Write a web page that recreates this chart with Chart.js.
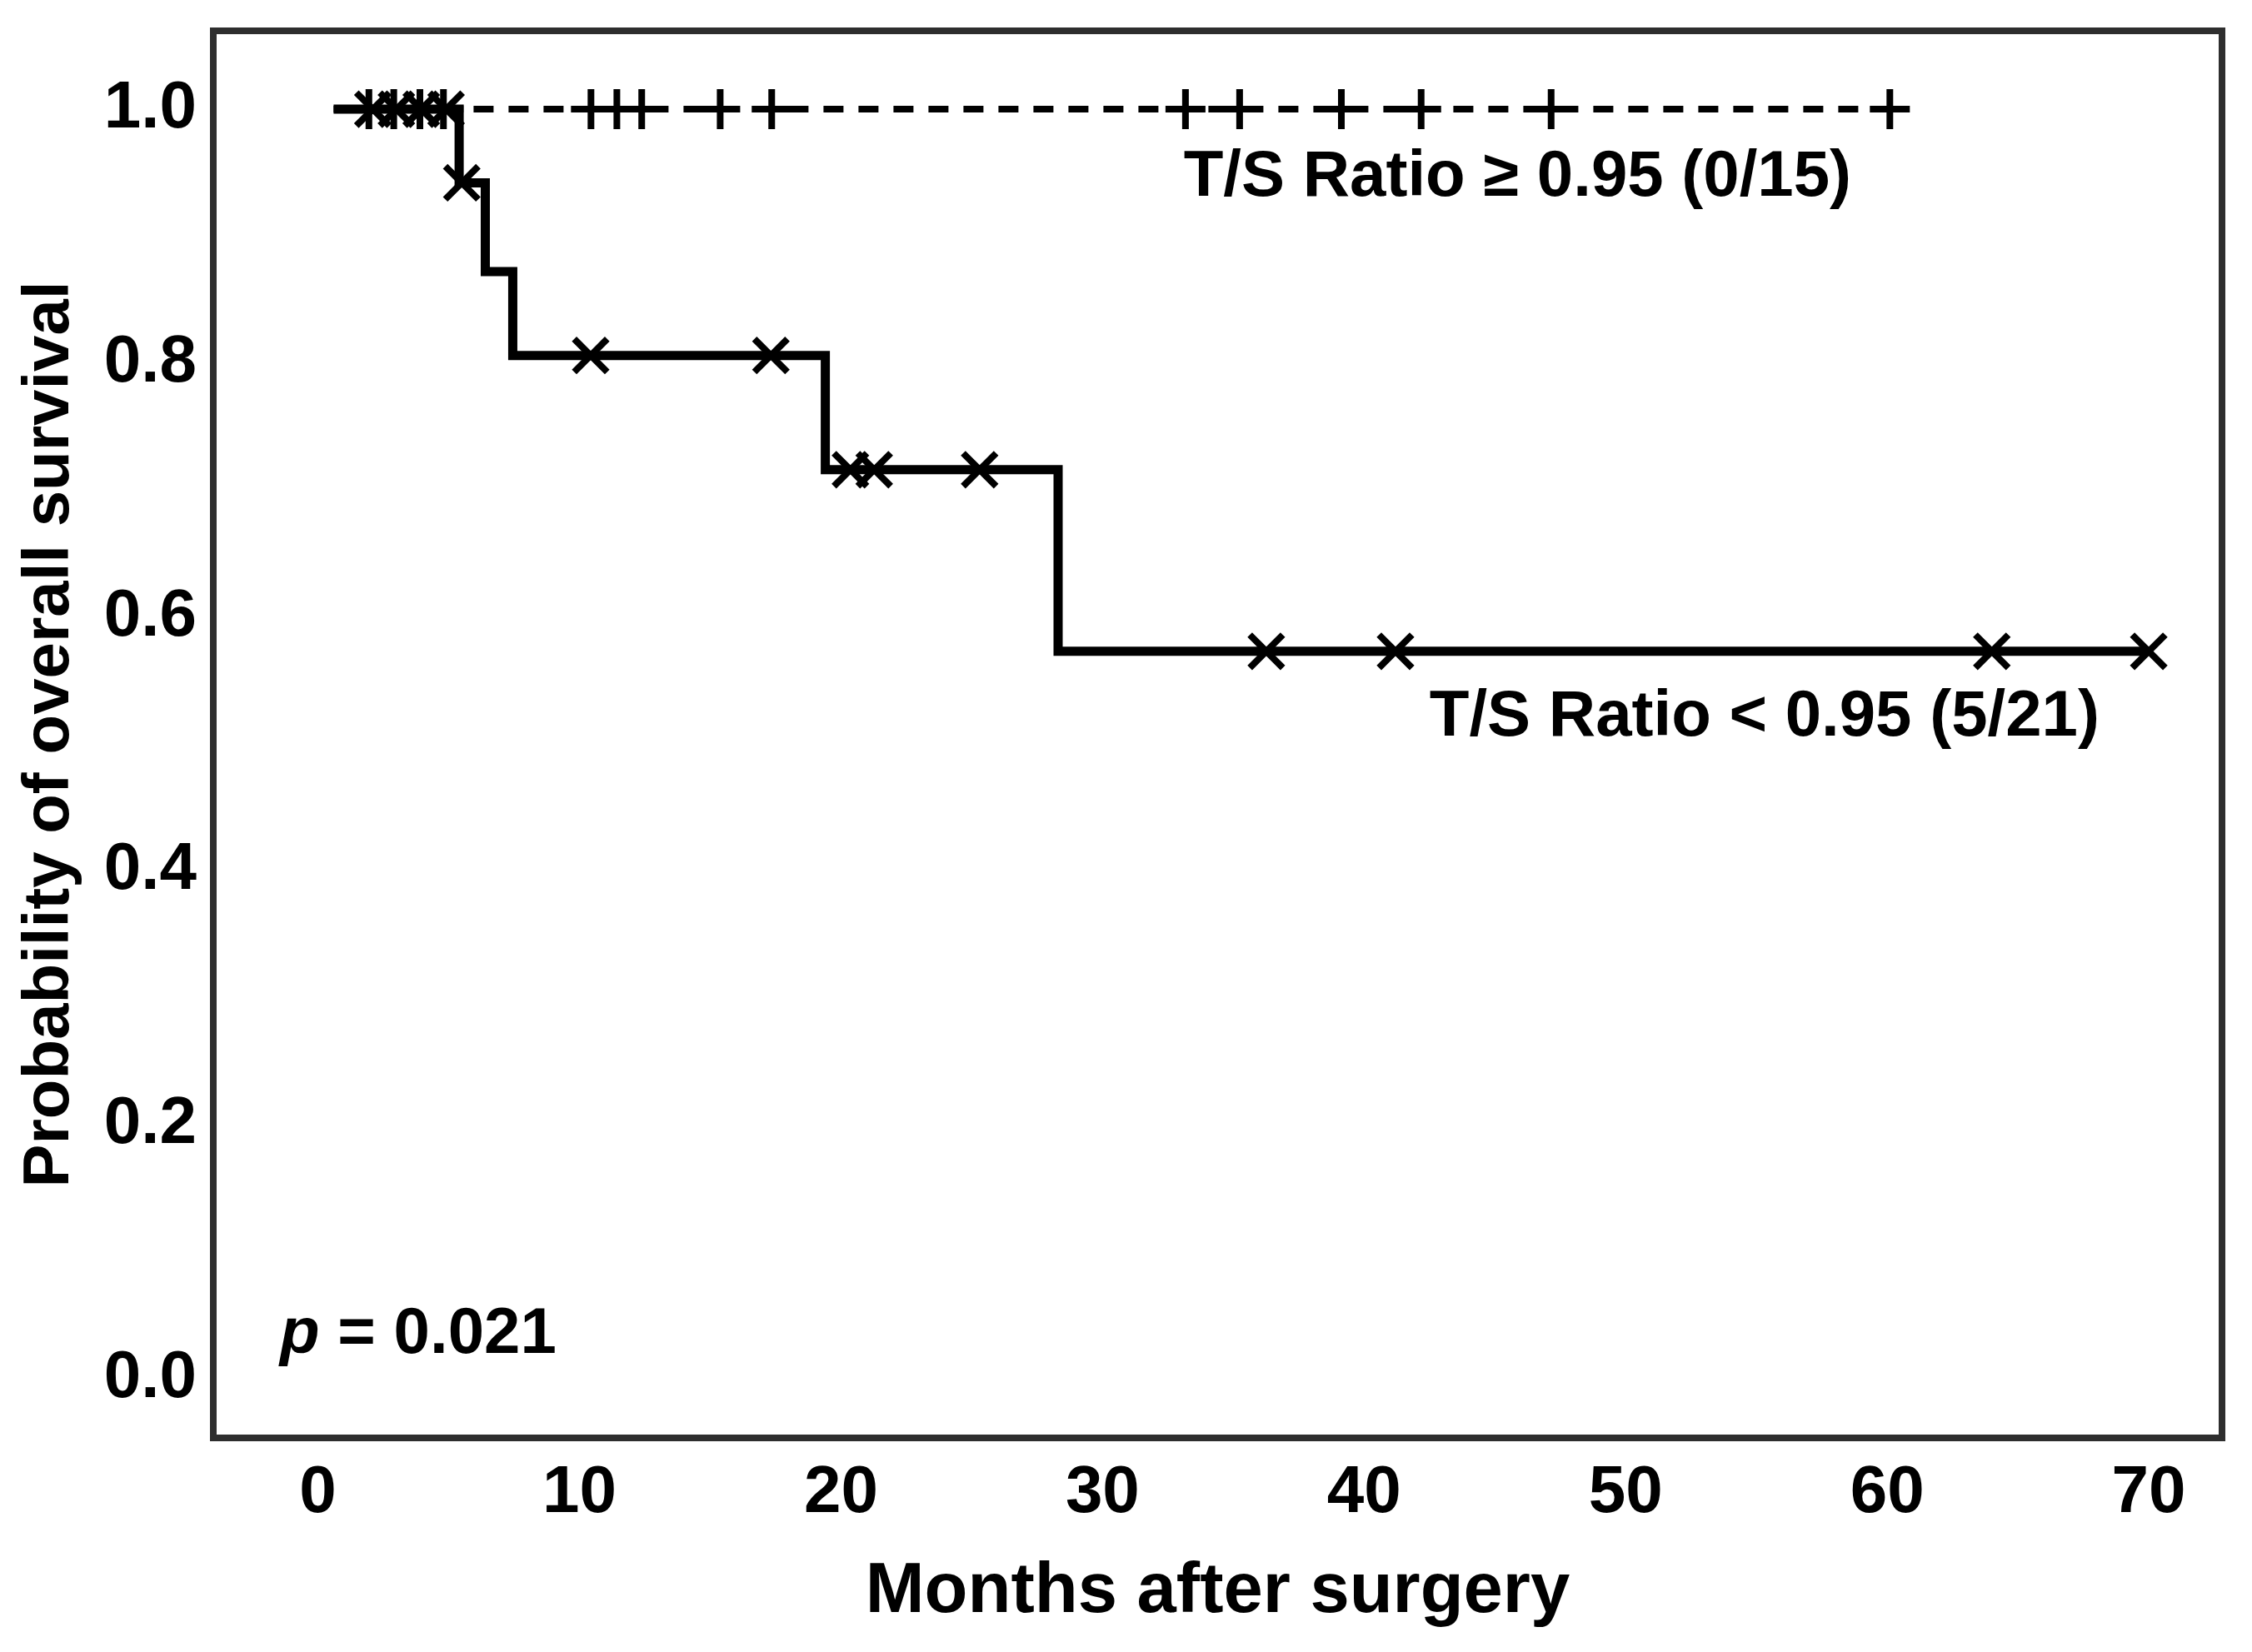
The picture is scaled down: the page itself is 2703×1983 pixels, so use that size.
<!DOCTYPE html>
<html>
<head>
<meta charset="utf-8">
<script src="https://cdn.jsdelivr.net/npm/chart.js@4.4.1/dist/chart.umd.min.js"></script>
<style>
html,body{margin:0;padding:0;background:#ffffff;}
canvas{display:block;}
</style>
</head>
<body>
<canvas id="km" width="2703" height="1983" style="width:2703px;height:1983px"></canvas>
<script>
// ---- data ----
const xTickValues = [0, 10, 20, 30, 40, 50, 60, 70];
const yTickValues = [0.0, 0.2, 0.4, 0.6, 0.8, 1.0];

// T/S Ratio < 0.95 : Kaplan-Meier step curve (time, survival)
const lowTimes = [0.6, 5.4, 6.4, 7.45, 19.4, 28.3, 70.0];
const lowSurv  = [1.0, 0.942, 0.872, 0.806, 0.716, 0.573, 0.573];
// censored observations (x marks)
const lowCensTimes = [2.1, 3.0, 3.95, 4.9, 5.5, 10.43, 17.32, 20.36, 21.27, 25.3, 36.26, 41.2, 64.0, 70.0];
const lowCensSurv  = [1.0, 1.0, 1.0, 1.0, 0.942, 0.806, 0.806, 0.716, 0.716, 0.716, 0.573, 0.573, 0.573, 0.573];

// T/S Ratio >= 0.95 : no events
const highTimes = [0.6, 60.1];
const highSurv  = [1.0, 1.0];
const highCensTimes = [1.95, 2.9, 3.9, 4.8, 10.44, 11.43, 12.38, 15.38, 17.35, 33.17, 35.24, 39.13, 42.18, 47.15, 60.1];
const highCensSurv  = [1, 1, 1, 1, 1, 1, 1, 1, 1, 1, 1, 1, 1, 1, 1];

const groupLabels = ["T/S Ratio \u2265 0.95 (0/15)", "T/S Ratio < 0.95 (5/21)"];
const pLabel = ["p", " = 0.021"];
const xTitle = "Months after surgery";
const yTitle = "Probability of overall survival";

const FONT = "'Liberation Sans', Arial, Helvetica, sans-serif";

function pts(xs, ys) { return xs.map((x, i) => ({x: x, y: ys[i]})); }

const boxPlugin = {
  id: 'box',
  afterDatasetsDraw(chart) {
    const {ctx, chartArea: a} = chart;
    ctx.save();
    ctx.strokeStyle = '#2e2e2e';
    ctx.lineWidth = 8;
    ctx.strokeRect(a.left, a.top, a.right - a.left, a.bottom - a.top);
    ctx.restore();
  }
};

const textPlugin = {
  id: 'annot',
  afterDatasetsDraw(chart) {
    const {ctx} = chart;
    const xs = chart.scales.x, ys = chart.scales.y;
    ctx.save();
    ctx.fillStyle = '#000';
    ctx.textAlign = 'left';
    ctx.textBaseline = 'alphabetic';
    ctx.font = 'bold 78px ' + FONT;
    ctx.fillText(groupLabels[0], xs.getPixelForValue(33.1), ys.getPixelForValue(0.9318));
    ctx.fillText(groupLabels[1], xs.getPixelForValue(42.5), ys.getPixelForValue(0.5066));
    // p value
    const px = xs.getPixelForValue(-1.45), py = ys.getPixelForValue(0.0203);
    ctx.font = 'italic bold 78px ' + FONT;
    ctx.fillText(pLabel[0], px, py);
    const w = ctx.measureText(pLabel[0]).width;
    ctx.font = 'bold 78px ' + FONT;
    ctx.fillText(pLabel[1], px + w, py);
    ctx.restore();
  }
};

const ctx = document.getElementById('km').getContext('2d');
new Chart(ctx, {
  type: 'scatter',
  data: {
    datasets: [
      {
        label: 'low censored',
        data: pts(lowCensTimes, lowCensSurv),
        showLine: false,
        pointStyle: 'crossRot',
        pointRadius: 28,
        pointBorderWidth: 8,
        borderColor: '#000',
        backgroundColor: '#000',
        order: 1
      },
      {
        label: 'high censored',
        data: pts(highCensTimes, highCensSurv),
        showLine: false,
        pointStyle: 'cross',
        pointRadius: 24,
        pointBorderWidth: 8,
        borderColor: '#000',
        backgroundColor: '#000',
        order: 2
      },
      {
        label: groupLabels[1],
        data: pts(lowTimes, lowSurv),
        showLine: true,
        stepped: 'before',
        borderColor: '#000',
        borderWidth: 11,
        pointRadius: 0,
        fill: false,
        order: 3
      },
      {
        label: groupLabels[0],
        data: pts(highTimes, highSurv),
        showLine: true,
        borderColor: '#000',
        borderWidth: 8,
        borderDash: [24, 18],
        pointRadius: 0,
        fill: false,
        order: 4
      }
    ]
  },
  options: {
    responsive: false,
    animation: false,
    devicePixelRatio: 1,
    layout: {padding: {top: 37, right: 34, left: 0, bottom: 0}},
    plugins: {legend: {display: false}, tooltip: {enabled: false}},
    scales: {
      x: {
        type: 'linear',
        min: -4,
        max: 72.8,
        afterBuildTicks(s) { s.ticks = xTickValues.map(v => ({value: v})); },
        afterFit(s) { s.height = 257; s.paddingLeft = 0; s.paddingRight = 0; },
        grid: {display: false, drawTicks: false},
        border: {display: false},
        ticks: {
          padding: 19,
          color: '#000',
          font: {family: FONT, size: 80, weight: 'bold'},
          callback: v => String(v)
        },
        title: {
          display: true,
          text: xTitle,
          color: '#000',
          font: {family: FONT, size: 85, weight: 'bold'},
          padding: {top: 0, bottom: 20}
        }
      },
      y: {
        type: 'linear',
        min: -0.0466,
        max: 1.0617,
        afterBuildTicks(s) { s.ticks = yTickValues.map(v => ({value: v})); },
        afterFit(s) { s.width = 256; s.paddingTop = 0; s.paddingBottom = 0; },
        grid: {display: false, drawTicks: false},
        border: {display: false},
        ticks: {
          padding: 20,
          color: '#000',
          font: {family: FONT, size: 80, weight: 'bold'},
          callback: v => Number(v).toFixed(1)
        },
        title: {
          display: true,
          text: yTitle,
          color: '#000',
          font: {family: FONT, size: 78, weight: 'bold'},
          padding: {top: 14, bottom: 0}
        }
      }
    }
  },
  plugins: [boxPlugin, textPlugin]
});
</script>
</body>
</html>
